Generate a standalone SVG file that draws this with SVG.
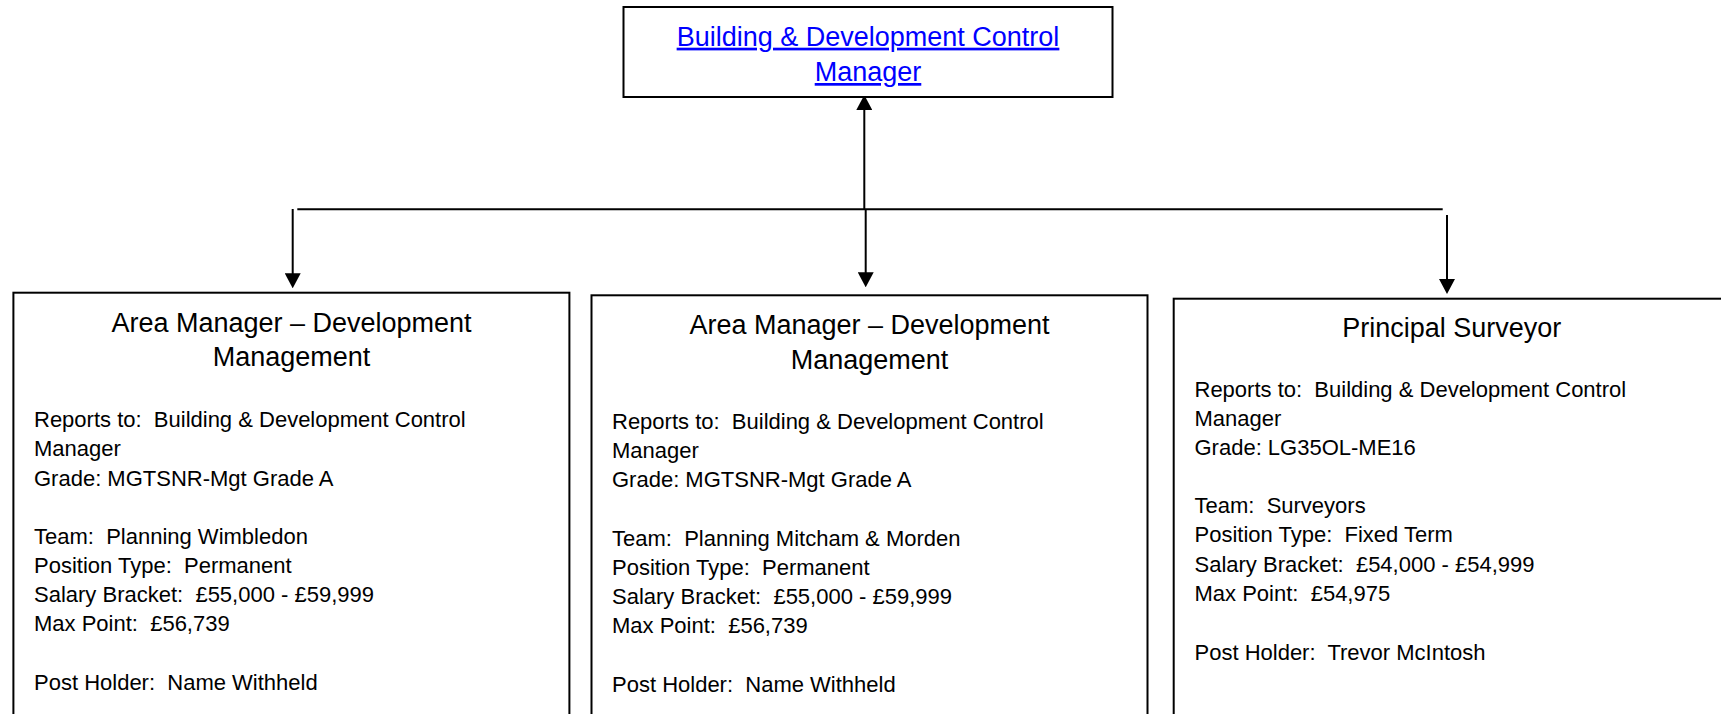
<svg xmlns="http://www.w3.org/2000/svg" width="1721" height="714" viewBox="0 0 1721 714" xml:space="preserve">
<style>
.box{fill:#fff;stroke:#000;stroke-width:2}
.conn{stroke:#000;stroke-width:2;fill:none}
.t{font-family:"Liberation Sans",Arial,sans-serif;fill:#000;white-space:pre}
.title{font-size:27px;text-anchor:middle}
.body{font-size:22px}
.link{font-family:"Liberation Sans",Arial,sans-serif;font-size:27px;fill:#0000FF;text-anchor:middle;text-decoration:underline}
</style>
<defs>
<marker id="ah" markerUnits="userSpaceOnUse" markerWidth="15" markerHeight="16" viewBox="0 0 15 16" refX="1" refY="8" orient="auto">
<path d="M0,0 L15,8 L0,16 Z" fill="#000"/>
</marker>
</defs>
<rect width="1721" height="714" fill="#fff"/>

<g id="connectors">
<line class="conn" x1="864.3" y1="210" x2="864.3" y2="109" marker-end="url(#ah)"/>
<line class="conn" x1="297.3" y1="209.3" x2="1442.7" y2="209.3"/>
<line class="conn" x1="292.7" y1="209" x2="292.7" y2="274.3" marker-end="url(#ah)"/>
<line class="conn" x1="865.7" y1="209.3" x2="865.7" y2="273.3" marker-end="url(#ah)"/>
<line class="conn" x1="1447" y1="215" x2="1447" y2="280" marker-end="url(#ah)"/>
</g>

<g id="node-manager">
<rect class="box" x="623.5" y="7" width="489" height="90"/>
<text class="link" x="868" y="45.7">Building &amp; Development Control</text>
<text class="link" x="868" y="81">Manager</text>
</g>

<g id="node-area-wimbledon">
<rect class="box" x="13.4" y="292.7" width="556" height="460"/>
<text class="t title" x="291.5" y="331.7">Area Manager – Development</text>
<text class="t title" x="291.5" y="366">Management</text>
<text class="t body" x="34" y="427.3">Reports to:  Building &amp; Development Control</text>
<text class="t body" x="34" y="456.3">Manager</text>
<text class="t body" x="34" y="485.5">Grade: MGTSNR-Mgt Grade A</text>
<text class="t body" x="34" y="543.8">Team:  Planning Wimbledon</text>
<text class="t body" x="34" y="573">Position Type:  Permanent</text>
<text class="t body" x="34" y="602.3">Salary Bracket:  £55,000 - £59,999</text>
<text class="t body" x="34" y="631.3">Max Point:  £56,739</text>
<text class="t body" x="34" y="689.8">Post Holder:  Name Withheld</text>
</g>

<g id="node-area-mitcham">
<rect class="box" x="591.5" y="295.3" width="556" height="460"/>
<text class="t title" x="869.5" y="334">Area Manager – Development</text>
<text class="t title" x="869.5" y="369">Management</text>
<text class="t body" x="612" y="429.3">Reports to:  Building &amp; Development Control</text>
<text class="t body" x="612" y="458">Manager</text>
<text class="t body" x="612" y="487">Grade: MGTSNR-Mgt Grade A</text>
<text class="t body" x="612" y="546">Team:  Planning Mitcham &amp; Morden</text>
<text class="t body" x="612" y="575">Position Type:  Permanent</text>
<text class="t body" x="612" y="604.3">Salary Bracket:  £55,000 - £59,999</text>
<text class="t body" x="612" y="633.3">Max Point:  £56,739</text>
<text class="t body" x="612" y="691.7">Post Holder:  Name Withheld</text>
</g>

<g id="node-principal-surveyor">
<rect class="box" x="1173.7" y="298.7" width="556" height="460"/>
<text class="t title" x="1451.7" y="336.7">Principal Surveyor</text>
<text class="t body" x="1194.5" y="396.7">Reports to:  Building &amp; Development Control</text>
<text class="t body" x="1194.5" y="425.7">Manager</text>
<text class="t body" x="1194.5" y="455">Grade: LG35OL-ME16</text>
<text class="t body" x="1194.5" y="513.3">Team:  Surveyors</text>
<text class="t body" x="1194.5" y="542.3">Position Type:  Fixed Term</text>
<text class="t body" x="1194.5" y="572">Salary Bracket:  £54,000 - £54,999</text>
<text class="t body" x="1194.5" y="600.7">Max Point:  £54,975</text>
<text class="t body" x="1194.5" y="660">Post Holder:  Trevor McIntosh</text>
</g>
</svg>
